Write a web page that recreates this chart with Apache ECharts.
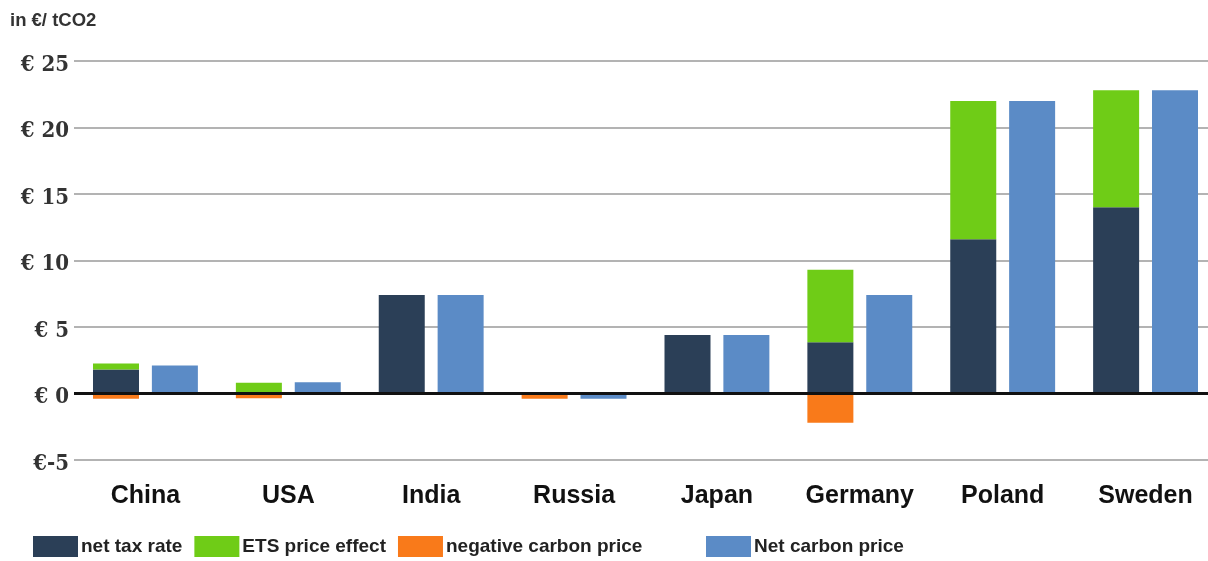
<!DOCTYPE html>
<html>
<head>
<meta charset="utf-8">
<script src="https://cdn.jsdelivr.net/npm/echarts@6/dist/echarts.min.js"></script>
<style>
  html, body { margin: 0; padding: 0; background: #fff; overflow: hidden; }
  #chart { width: 1220px; height: 561px; }
</style>
</head>
<body>
<div id="chart"></div>
<script>
const categories = ['China', 'USA', 'India', 'Russia', 'Japan', 'Germany', 'Poland', 'Sweden'];
const netTaxRate = [1.8, 0, 7.4, 0, 4.4, 3.85, 11.6, 14.0];
const etsPriceEffect = [0.45, 0.8, 0, 0, 0, 5.45, 10.4, 8.8];
const negativeCarbonPrice = [-0.4, -0.35, 0, -0.4, 0, -2.2, 0, 0];
const netCarbonPrice = [2.1, 0.85, 7.4, -0.4, 4.4, 7.4, 22.0, 22.8];
const yTicks = { min: -5, max: 25, interval: 5 };

const narrow = "'Liberation Sans Narrow', 'Arial Narrow', 'Liberation Sans', sans-serif";
const serifC = "'DejaVu Serif Condensed', 'DejaVu Serif', serif";

const chart = echarts.init(document.getElementById('chart'));
chart.setOption({
  animation: false,
  backgroundColor: '#fff',
  title: {
    text: 'in €/ tCO2',
    left: 5, top: 6,
    textStyle: { fontFamily: narrow, fontWeight: 'bold', fontSize: 18.5, color: '#333' }
  },
  legend: [
    {
      data: ['net tax rate', 'ETS price effect', 'negative carbon price'],
      left: 28, top: 531,
      itemWidth: 45, itemHeight: 21, itemGap: 12,
      icon: 'rect',
      textStyle: { fontFamily: narrow, fontWeight: 'bold', fontSize: 19, color: '#222', padding: [0, 0, 0, -2] }
    },
    {
      data: ['Net carbon price'],
      left: 701, top: 531,
      itemWidth: 45, itemHeight: 21,
      icon: 'rect',
      textStyle: { fontFamily: narrow, fontWeight: 'bold', fontSize: 19, color: '#222', padding: [0, 0, 0, -2] }
    }
  ],
  grid: { left: 74, top: 61, width: 1143, height: 399, containLabel: false },
  xAxis: {
    type: 'category',
    data: categories,
    axisLine: { show: false, onZero: false },
    axisTick: { show: false },
    axisLabel: { margin: 24, fontFamily: narrow, fontWeight: 'bold', fontSize: 25, color: '#111' }
  },
  yAxis: {
    type: 'value',
    min: yTicks.min, max: yTicks.max, interval: yTicks.interval,
    axisLine: { show: false },
    axisTick: { show: false },
    splitLine: { lineStyle: { color: '#9a9a9a', width: 1.5 } },
    axisLabel: {
      margin: 5,
      formatter: v => '{a|' + (v < 0 ? '€' + v : '€ ' + v) + '}',
      rich: {
        a: {
          fontFamily: serifC, fontWeight: 'bold', fontSize: 22, color: '#333',
          lineHeight: 30, verticalAlign: 'bottom'
        }
      }
    }
  },
  series: [
    {
      name: 'net tax rate', type: 'bar', stack: 'a', data: netTaxRate,
      barWidth: 46, barGap: '28%',
      itemStyle: { color: '#2b3f57' }
    },
    {
      name: 'ETS price effect', type: 'bar', stack: 'a', data: etsPriceEffect,
      barWidth: 46, barGap: '28%',
      itemStyle: { color: '#6fcc17' }
    },
    {
      name: 'negative carbon price', type: 'bar', stack: 'a', data: negativeCarbonPrice,
      barWidth: 46, barGap: '28%',
      itemStyle: { color: '#f97a1a' }
    },
    {
      name: 'Net carbon price', type: 'bar', data: netCarbonPrice,
      barWidth: 46, barGap: '28%',
      itemStyle: { color: '#5b8bc6' },
      markLine: {
        silent: true, symbol: 'none', label: { show: false },
        lineStyle: { color: '#111', width: 3, type: 'solid' },
        data: [{ yAxis: 0 }]
      }
    }
  ]
});
</script>
</body>
</html>
